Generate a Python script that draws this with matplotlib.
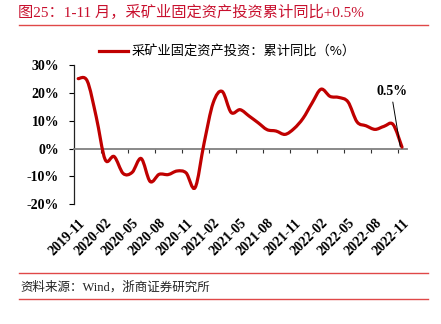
import matplotlib
matplotlib.use("Agg")
import matplotlib.pyplot as plt
from matplotlib.path import Path
from matplotlib.patches import PathPatch
from matplotlib.lines import Line2D

# 采矿业固定资产投资：累计同比（%），2019-11 ~ 2022-11
months = ['2019-11', '2019-12',
          '2020-01', '2020-02', '2020-03', '2020-04', '2020-05', '2020-06',
          '2020-07', '2020-08', '2020-09', '2020-10', '2020-11', '2020-12',
          '2021-01', '2021-02', '2021-03', '2021-04', '2021-05', '2021-06',
          '2021-07', '2021-08', '2021-09', '2021-10', '2021-11', '2021-12',
          '2022-01', '2022-02', '2022-03', '2022-04', '2022-05', '2022-06',
          '2022-07', '2022-08', '2022-09', '2022-10', '2022-11']
values = [25.2, 24.4,
          11.5, -4.0, -2.9, -9.0, -8.6, -3.6,
          -11.9, -9.3, -9.4, -8.1, -8.8, -14.1,
          2.0, 16.4, 20.6, 13.0, 14.0, 11.7,
          9.3, 6.8, 6.3, 5.1, 7.2, 10.9,
          16.4, 21.4, 18.8, 18.4, 16.8, 9.6,
          8.2, 6.9, 8.0, 8.7, 0.5]
tick_labels = months[::3]
y_ticks = [-20, -10, 0, 10, 20, 30]

RED = '#C00000'
RULE = '#E04848'
serif = ['Liberation Serif', 'Noto Sans CJK SC']
cjk = ['Noto Sans CJK SC', 'DejaVu Sans']


def smooth_path(xs, ys):
    # 平滑曲线（类似 Excel 的平滑线）
    pts = list(zip(xs, ys))
    verts = [pts[0]]
    codes = [Path.MOVETO]
    n = len(pts)
    for i in range(n - 1):
        p0 = pts[i - 1] if i > 0 else pts[i]
        p1 = pts[i]
        p2 = pts[i + 1]
        p3 = pts[i + 2] if i + 2 < n else pts[i + 1]
        c1 = (p1[0] + (p2[0] - p0[0]) / 6, p1[1] + (p2[1] - p0[1]) / 6)
        c2 = (p2[0] - (p3[0] - p1[0]) / 6, p2[1] - (p3[1] - p1[1]) / 6)
        verts += [c1, c2, p2]
        codes += [Path.CURVE4] * 3
    return Path(verts, codes)


fig = plt.figure(figsize=(4.41, 3.24), dpi=100)
ax = fig.add_axes([0.1671, 0.3704, 0.7547, 0.428])

x = list(range(len(values)))
ax.add_patch(PathPatch(smooth_path(x, values), fill=False, edgecolor=RED,
                       lw=2.3, capstyle='round', joinstyle='round', zorder=3))

ax.set_xlim(-0.5, len(values) - 0.5)
ax.set_ylim(-20, 30)

for s in ['top', 'right']:
    ax.spines[s].set_visible(False)
ax.spines['bottom'].set_position(('data', 0))
ax.spines['bottom'].set_color('#808080')
ax.spines['bottom'].set_linewidth(1.3)
ax.spines['left'].set_color('#222222')
ax.spines['left'].set_linewidth(0.9)

ax.set_xticks([b + 0.5 for b in range(2, len(values), 3)])
ax.tick_params(axis='x', direction='out', length=3, width=0.8,
               color='#333333', labelbottom=False)

ax.set_yticks(y_ticks)
ax.set_yticklabels([f'{v}%' for v in y_ticks], family=serif,
                   fontweight='bold', fontsize=10)
ax.tick_params(axis='y', direction='out', length=3.5, width=0.8, pad=7)

sec = ax.secondary_xaxis('bottom')
sec.spines['bottom'].set_visible(False)
sec.set_xticks(range(0, len(values), 3))
sec.set_xticklabels(tick_labels, rotation=45, ha='right', va='top',
                    rotation_mode='anchor', family=serif,
                    fontweight='bold', fontsize=10)
sec.tick_params(length=0, pad=9)

ax.annotate('0.5%', xy=(35.8, 0.7), xytext=(34.9, 20.6),
            ha='center', va='center', family=serif, fontweight='bold',
            fontsize=10,
            arrowprops=dict(arrowstyle='-', lw=0.7, color='black',
                            shrinkA=1, shrinkB=0, relpos=(0.5, 0)))

handle = Line2D([], [], color=RED, lw=2.3)
fig.legend([handle], ['采矿业固定资产投资：累计同比（%）'], loc='center',
           bbox_to_anchor=(0.515, 0.84), frameon=False, handlelength=2.2,
           handletextpad=0.3, prop={'family': cjk, 'size': 9.5})

fig.text(0.04, 1 - 12 / 324, '图25：1-11 月，采矿业固定资产投资累计同比+0.5%',
         color='#C8102E', family=serif, fontsize=11, va='center', ha='left')
fig.add_artist(Line2D([19 / 441, 428 / 441], [1 - 25 / 324] * 2,
                      color=RULE, lw=1.0))
fig.add_artist(Line2D([19 / 441, 428 / 441], [1 - 272.5 / 324] * 2,
                      color=RULE, lw=1.0))
fig.add_artist(Line2D([19 / 441, 428 / 441], [1 - 299 / 324] * 2,
                      color=RULE, lw=1.0))
fig.text(20 / 441, 1 - 287 / 324, '资料来源：Wind，浙商证券研究所',
         family=serif, fontsize=9, va='center', ha='left', color='#222222')

fig.savefig('out.png', dpi=100)
